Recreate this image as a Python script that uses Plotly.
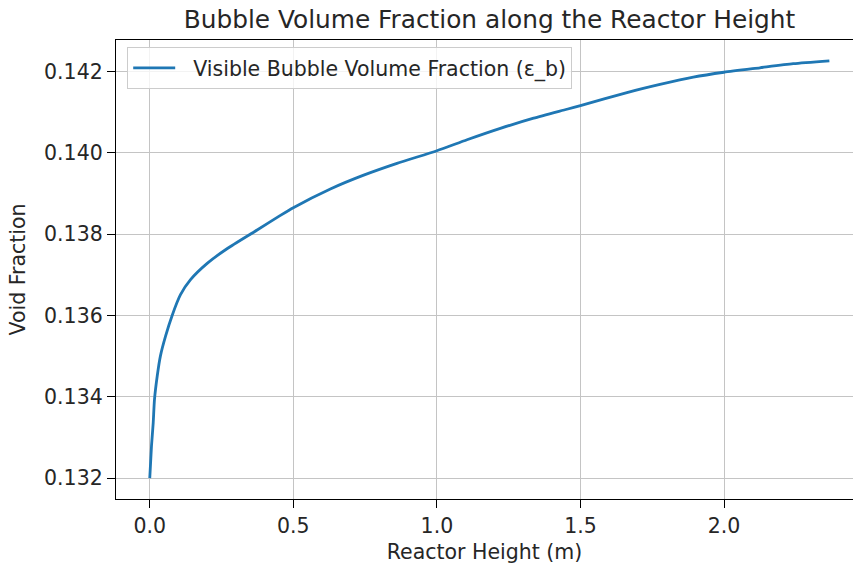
import plotly.graph_objects as go

# Reactor height (m) and visible bubble volume fraction
height_m = [0.0, 0.006, 0.012, 0.0164, 0.026, 0.037, 0.055, 0.078, 0.107, 0.142,
            0.2, 0.269, 0.374, 0.455, 0.5, 0.629, 0.745, 0.861, 1.0, 1.105,
            1.221, 1.337, 1.453, 1.5, 1.662, 1.777, 1.893, 2.0, 2.125, 2.241, 2.367]
eps_b = [0.132, 0.13279, 0.13336, 0.13393, 0.13451, 0.135, 0.13549, 0.136, 0.13651, 0.13688,
         0.13728, 0.13764, 0.1381, 0.13846, 0.13865, 0.13911, 0.13945, 0.13974, 0.14005, 0.14032,
         0.1406, 0.14085, 0.14107, 0.14116, 0.14148, 0.14168, 0.14186, 0.14198, 0.14209, 0.14219, 0.14226]

x_ticks = [0.0, 0.5, 1.0, 1.5, 2.0]
y_ticks = [0.132, 0.134, 0.136, 0.138, 0.140, 0.142]

FONT = "DejaVu Sans"
TXT = "#262626"
FS = 20.5

fig = go.Figure()
fig.add_trace(go.Scatter(
    x=height_m, y=eps_b, mode="lines",
    name="\u00a0\u00a0Visible Bubble Volume Fraction (ε_b)",
    line=dict(color="#1f77b4", width=2.8, shape="spline", smoothing=0.6),
))

fig.update_layout(
    width=853, height=564,
    margin=dict(l=116, r=0, t=40, b=65),
    paper_bgcolor="white", plot_bgcolor="white",
    font=dict(family=FONT, size=FS, color=TXT),
    title=dict(text="Bubble Volume Fraction along the Reactor Height",
               font=dict(family=FONT, size=24.8, color=TXT),
               xref="paper", x=0.5068, xanchor="center",
               yref="container", y=1 - 19 / 564, yanchor="middle"),
    showlegend=True,
    legend=dict(x=0.0152, y=0.9847, xanchor="left", yanchor="top",
                bgcolor="rgba(255,255,255,0.8)", bordercolor="#cccccc", borderwidth=1,
                font=dict(family=FONT, size=FS, color=TXT), itemwidth=42),
    xaxis=dict(range=[-0.1176, 2.4493], tickvals=x_ticks, tickformat=".1f",
               showgrid=True, gridcolor="#c4c4c4", gridwidth=1.4,
               zeroline=False, showline=True, linecolor="black", linewidth=1.3,
               mirror=True, ticks="outside", ticklen=8, tickcolor="black", tickwidth=1.3,
               title=dict(text="Reactor Height (m)", standoff=8,
                          font=dict(family=FONT, size=FS, color=TXT))),
    yaxis=dict(range=[0.131487, 0.142773], tickvals=y_ticks, tickformat=".3f",
               showgrid=True, gridcolor="#c4c4c4", gridwidth=1.4,
               zeroline=False, showline=True, linecolor="black", linewidth=1.3,
               mirror=False, ticks="outside", ticklen=8, tickcolor="black", tickwidth=1.3,
               title=dict(text="Void Fraction", standoff=12,
                          font=dict(family=FONT, size=FS, color=TXT))),
)

fig.write_html("out.html")
